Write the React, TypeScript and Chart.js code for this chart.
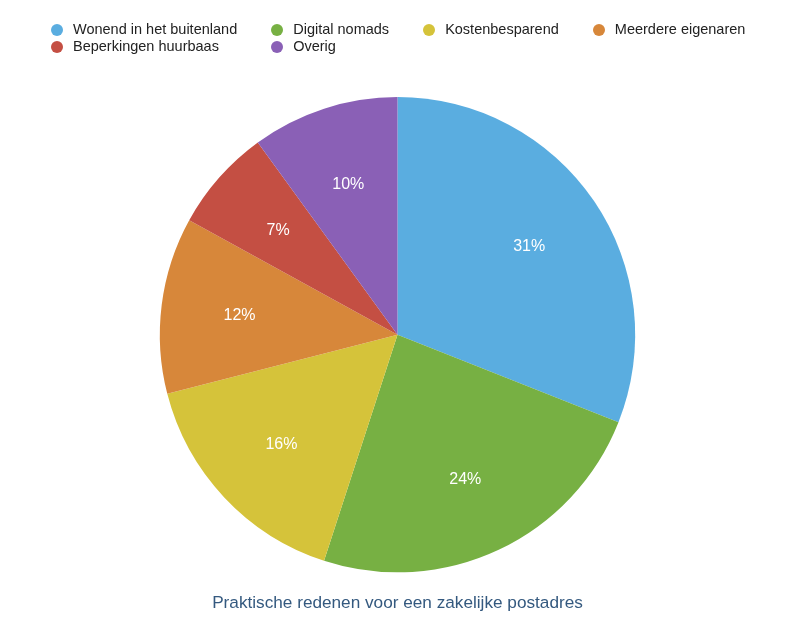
import React, { useEffect, useRef } from "react";
import { Chart, registerables } from "chart.js";

Chart.register(...registerables);

const categories = [
  "Wonend in het buitenland",
  "Digital nomads",
  "Kostenbesparend",
  "Meerdere eigenaren",
  "Beperkingen huurbaas",
  "Overig",
];
const values = [31, 24, 16, 12, 7, 10];
const colors = ["#5AADE0", "#77B043", "#D5C33A", "#D7873A", "#C44F43", "#8A60B6"];
const titleText = "Praktische redenen voor een zakelijke postadres";

const FONT = "'Liberation Sans', Arial, Helvetica, sans-serif";

const labelPlugin = {
  id: "sliceLabels",
  afterDatasetsDraw(chart: any) {
    const ctx = chart.ctx;
    const meta = chart.getDatasetMeta(0);
    const data = chart.data.datasets[0].data as number[];
    const total = data.reduce((a: number, b: number) => a + b, 0);
    ctx.save();
    ctx.fillStyle = "#ffffff";
    ctx.font = `16px ${FONT}`;
    ctx.textAlign = "center";
    ctx.textBaseline = "middle";
    meta.data.forEach((arc: any, i: number) => {
      const p = arc.getProps(["x", "y", "startAngle", "endAngle", "outerRadius"], true);
      const mid = (p.startAngle + p.endAngle) / 2;
      const r = p.outerRadius * 0.67;
      const pct = Math.round((data[i] / total) * 100);
      ctx.fillText(pct + "%", p.x + Math.cos(mid) * r, p.y + Math.sin(mid) * r + 1);
    });
    ctx.restore();
  },
};

export default function App() {
  const ref = useRef<HTMLCanvasElement | null>(null);
  useEffect(() => {
    document.body.style.margin = "0";
    if (!ref.current) return;
    const chart = new Chart(ref.current, {
      type: "pie",
      data: {
        labels: categories,
        datasets: [
          {
            data: values,
            backgroundColor: colors,
            borderWidth: 0,
          },
        ],
      },
      options: {
        animation: false,
        responsive: false,
        maintainAspectRatio: false,
        layout: { padding: { top: 97, bottom: 17, left: 0, right: 5 } },
        plugins: {
          legend: { display: false },
          tooltip: { enabled: false },
          title: {
            display: true,
            text: titleText,
            position: "bottom",
            color: "#34597F",
            font: { family: FONT, size: 17.2, weight: "normal" },
            padding: { top: 21, bottom: 10 },
          },
        },
      },
      plugins: [labelPlugin],
    });
    return () => chart.destroy();
  }, []);

  const order = [0, 1, 2, 3, 4, 5];
  return (
    <div style={{ position: "relative", width: 800, height: 641, background: "#fff" }}>
      <canvas ref={ref} width={800} height={641} style={{ position: "absolute", left: 0, top: 0 }} />
      <div
        style={{
          position: "absolute",
          left: 51,
          top: 21,
          display: "grid",
          gridTemplateColumns: "repeat(4, auto)",
          columnGap: 34,
          justifyContent: "start",
          fontFamily: FONT,
          fontSize: 14.5,
          lineHeight: "17px",
          color: "#222",
        }}
      >
        {order.map((i) => (
          <div key={i} style={{ display: "flex", alignItems: "center", whiteSpace: "nowrap" }}>
            <span
              style={{
                display: "inline-block",
                width: 12,
                height: 12,
                borderRadius: "50%",
                background: colors[i],
                marginRight: 10,
              }}
            />
            <span>{categories[i]}</span>
          </div>
        ))}
      </div>
    </div>
  );
}
